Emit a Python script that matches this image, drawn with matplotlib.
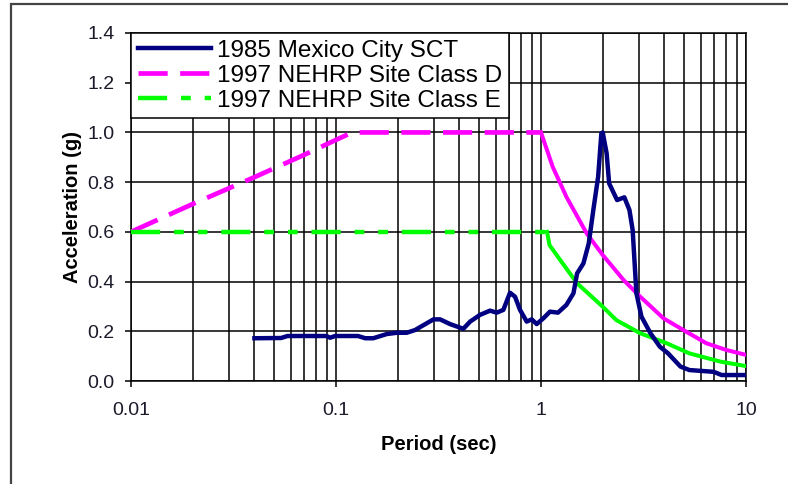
import numpy as np
import matplotlib
matplotlib.use("Agg")
import matplotlib.pyplot as plt
from matplotlib.patches import Rectangle
from matplotlib.ticker import LogLocator, FixedLocator, FuncFormatter, NullFormatter

plt.rcParams['font.family'] = ['Liberation Sans', 'DejaVu Sans']
plt.rcParams['lines.scale_dashes'] = False

# 1985 Mexico City SCT record
sct_period = [0.040, 0.054, 0.058, 0.090, 0.0935, 0.099, 0.128, 0.139, 0.152, 0.177,
              0.198, 0.221, 0.243, 0.299, 0.322, 0.36, 0.418, 0.451, 0.504, 0.564,
              0.608, 0.655, 0.706, 0.747, 0.79, 0.852, 0.901, 0.953, 1.026, 1.106,
              1.21, 1.33, 1.44, 1.50, 1.61, 1.71, 1.80, 1.90, 1.97, 2.0,
              2.09, 2.15, 2.35, 2.55, 2.70, 2.80, 2.92, 3.09, 3.42, 3.80,
              4.17, 4.79, 5.30, 6.95, 7.6, 10.0]
sct_accel = [0.172, 0.173, 0.181, 0.181, 0.174, 0.181, 0.181, 0.172, 0.172, 0.189,
             0.194, 0.194, 0.205, 0.248, 0.248, 0.229, 0.21, 0.239, 0.266, 0.283,
             0.275, 0.286, 0.355, 0.339, 0.286, 0.239, 0.248, 0.229, 0.252, 0.279,
             0.275, 0.306, 0.353, 0.433, 0.473, 0.554, 0.688, 0.822, 0.996, 1.0,
             0.916, 0.795, 0.728, 0.739, 0.688, 0.607, 0.353, 0.259, 0.192, 0.138,
             0.111, 0.058, 0.044, 0.037, 0.024, 0.024]

# 1997 NEHRP site class D (dashed rising/plateau part, then solid tail)
d_period_a = [0.01, 0.02, 0.04, 0.07, 0.1, 0.12, 1.0]
d_accel_a = [0.6, 0.712, 0.82, 0.91, 0.97, 1.0, 1.0]
d_period_b = [1.0, 1.14, 1.33, 1.67, 2.0, 2.53, 3.05, 3.96, 4.95, 6.4, 8.0, 10.0]
d_accel_b = [1.0, 0.862, 0.741, 0.594, 0.507, 0.406, 0.339, 0.252, 0.205, 0.152, 0.125, 0.105]

# 1997 NEHRP site class E
e_period_a = [0.01, 1.07]
e_accel_a = [0.6, 0.6]
e_period_b = [1.07, 1.1, 1.24, 1.5, 2.0, 2.33, 3.05, 4.1, 5.3, 7.5, 10.0]
e_accel_b = [0.6, 0.547, 0.487, 0.393, 0.299, 0.245, 0.192, 0.152, 0.111, 0.078, 0.06]

labels = ['1985 Mexico City SCT', '1997 NEHRP Site Class D', '1997 NEHRP Site Class E']
x_ticks = [0.01, 0.1, 1, 10]
x_ticklabels = ['0.01', '0.1', '1', '10']
y_ticks = [0.0, 0.2, 0.4, 0.6, 0.8, 1.0, 1.2, 1.4]

navy, magenta, lime = '#000080', '#ff00ff', '#00ff00'

fig = plt.figure(figsize=(7.88, 4.84), dpi=100)
fig.patches.append(Rectangle((11 / 788, -0.2), 1.2, 1.2 - 4 / 484,
                             transform=fig.transFigure, fill=False,
                             edgecolor='#444444', linewidth=1.6))
ax = fig.add_axes([131 / 788, 1 - 381 / 484, 615 / 788, 348 / 484])

ax.plot(sct_period, sct_accel, color=navy, linewidth=3.2, label=labels[0],
        solid_joinstyle='round', zorder=5)
ax.plot(d_period_a, d_accel_a, color=magenta, linewidth=3.4, dashes=(21, 9),
        label=labels[1], zorder=4)
ax.plot(d_period_b, d_accel_b, color=magenta, linewidth=2.9, zorder=4)
ax.plot(e_period_a, e_accel_a, color=lime, linewidth=3.2,
        dashes=(21, 10, 7, 10, 7, 10), label=labels[2], zorder=4)
ax.plot(e_period_b, e_accel_b, color=lime, linewidth=2.9, zorder=4)

ax.set_xscale('log')
ax.set_xlim(0.01, 10)
ax.set_ylim(0, 1.4)
ax.xaxis.set_major_locator(FixedLocator(x_ticks))
ax.xaxis.set_major_formatter(FuncFormatter(lambda v, p: x_ticklabels[x_ticks.index(v)] if v in x_ticks else ''))
ax.xaxis.set_minor_locator(LogLocator(base=10, subs=np.arange(2, 10)))
ax.xaxis.set_minor_formatter(NullFormatter())
ax.set_yticks(y_ticks)
ax.set_yticklabels([f'{v:.1f}' for v in y_ticks])

ax.grid(which='both', axis='x', color='black', linewidth=1.1)
ax.grid(which='major', axis='y', color='black', linewidth=1.1)
ax.set_axisbelow(True)
for s in ax.spines.values():
    s.set_color('black')
    s.set_linewidth(1.1)

ax.tick_params(axis='both', which='major', direction='out', length=4, width=1.1,
               labelsize=14, labelcolor='#1a1a2a')
ax.tick_params(axis='x', which='major', pad=11)
ax.tick_params(axis='y', which='major', pad=8)
ax.tick_params(axis='x', which='minor', length=0)

ax.set_xlabel('Period (sec)', fontsize=14.5, fontweight='bold')
ax.set_ylabel('Acceleration (g)', fontsize=14.5, fontweight='bold')
ax.xaxis.set_label_coords(0.5, -0.155)
ax.yaxis.set_label_coords(-0.08, 0.5)

leg = ax.legend(loc='upper left', bbox_to_anchor=(0, 1), borderaxespad=0,
                fontsize=17.5, handlelength=3.0, handletextpad=0.25,
                labelspacing=0.12, borderpad=0.28, fancybox=False,
                framealpha=1, edgecolor='black')
leg.get_frame().set_linewidth(1.1)
leg.set_zorder(10)

fig.savefig('out.png', dpi=100)
